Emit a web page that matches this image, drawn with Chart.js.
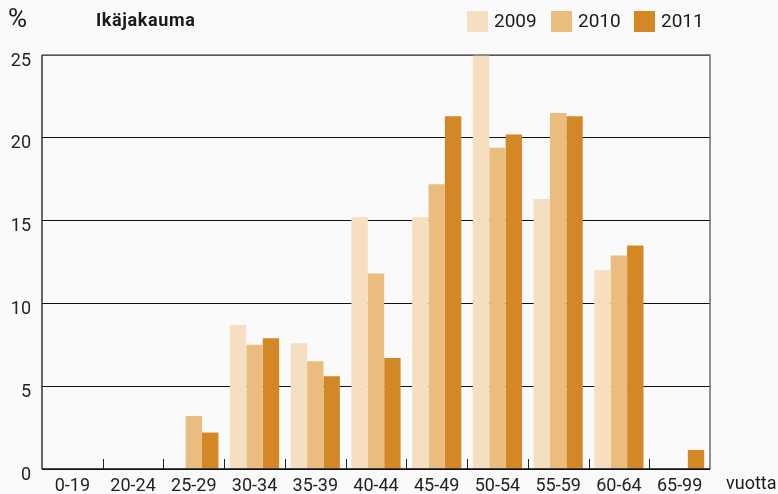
<!DOCTYPE html>
<html>
<head>
<meta charset="utf-8">
<script src="https://cdn.jsdelivr.net/npm/chart.js@4"></script>
<style>
  html, body { margin: 0; padding: 0; background: #fafafa; }
  #wrap { width: 778px; height: 494px; }
</style>
</head>
<body>
<div id="wrap"><canvas id="ikajakauma" width="778" height="494"></canvas></div>
<script>
// Ikäjakauma, % per ikäryhmä
const ikaryhmat = ['0-19', '20-24', '25-29', '30-34', '35-39', '40-44', '45-49', '50-54', '55-59', '60-64', '65-99'];
const v2009 = [0, 0, 0, 8.7, 7.6, 15.2, 15.2, 25.0, 16.3, 12.0, 0];
const v2010 = [0, 0, 3.2, 7.5, 6.5, 11.8, 17.2, 19.4, 21.5, 12.9, 0];
const v2011 = [0, 0, 2.2, 7.9, 5.6, 6.7, 21.3, 20.2, 21.3, 13.5, 1.15];
const vuodet = ['2009', '2010', '2011'];
const varit = ['#f6dfc1', '#eabd7e', '#d38825'];
const yTicks = [0, 5, 10, 15, 20, 25];

const fontti = 'Roboto, "Liberation Sans", sans-serif';

const kehys = {
  id: 'kehys',
  afterDatasetsDraw(chart) {
    const { ctx, chartArea: a, scales } = chart;
    ctx.save();
    // reunat
    ctx.strokeStyle = '#6e6e6e';
    ctx.lineWidth = 1.5;
    ctx.beginPath();
    ctx.moveTo(a.left, a.top);
    ctx.lineTo(a.right, a.top);
    ctx.lineTo(a.right, a.bottom);
    ctx.stroke();
    ctx.strokeStyle = '#333';
    ctx.beginPath();
    ctx.moveTo(a.left, a.top);
    ctx.lineTo(a.left, a.bottom);
    ctx.stroke();
    ctx.strokeStyle = '#111';
    ctx.beginPath();
    ctx.moveTo(a.left, a.bottom);
    ctx.lineTo(a.right, a.bottom);
    ctx.stroke();
    // väliviivat ryhmien välissä
    const x = scales.x;
    ctx.lineWidth = 1;
    ctx.strokeStyle = '#222';
    for (let i = 1; i < ikaryhmat.length; i++) {
      const px = Math.round((x.getPixelForValue(i - 1) + x.getPixelForValue(i)) / 2) + 0.5;
      ctx.beginPath();
      ctx.moveTo(px, a.bottom);
      ctx.lineTo(px, a.bottom - 10);
      ctx.stroke();
    }
    ctx.restore();
  },
  afterDraw(chart) {
    const { ctx } = chart;
    ctx.save();
    ctx.fillStyle = '#1a1a1a';
    ctx.textBaseline = 'middle';
    ctx.textAlign = 'left';
    ctx.font = '26px ' + fontti;
    ctx.fillText('%', 8, 20);
    ctx.font = 'bold 18px ' + fontti;
    ctx.letterSpacing = '0.6px';
    ctx.fillText('Ikäjakauma', 96, 21);
    ctx.letterSpacing = '0px';
    ctx.font = '18px ' + fontti;
    ctx.fillText('vuotta', 726, 484);
    // selite
    const boxX = [467, 551, 634];
    ctx.font = '19px ' + fontti;
    chart.data.datasets.forEach((ds, i) => {
      ctx.fillStyle = ds.backgroundColor;
      ctx.fillRect(boxX[i], 11, 21, 21);
      ctx.fillStyle = '#1a1a1a';
      ctx.fillText(ds.label, boxX[i] + 27, 22);
    });
    ctx.restore();
  }
};

new Chart(document.getElementById('ikajakauma'), {
  type: 'bar',
  data: {
    labels: ikaryhmat,
    datasets: [
      { label: vuodet[0], data: v2009, backgroundColor: varit[0] },
      { label: vuodet[1], data: v2010, backgroundColor: varit[1] },
      { label: vuodet[2], data: v2011, backgroundColor: varit[2] }
    ]
  },
  options: {
    responsive: false,
    animation: false,
    layout: { padding: { top: 55, right: 68, left: 0, bottom: 0 } },
    datasets: { bar: { categoryPercentage: 0.81, barPercentage: 1.0, borderWidth: 0 } },
    plugins: { legend: { display: false }, tooltip: { enabled: false } },
    scales: {
      x: {
        grid: { display: false },
        border: { display: false },
        ticks: { color: '#222', font: { family: fontti, size: 18 }, padding: -1, maxRotation: 0, autoSkip: false },
        afterFit: s => { s.height = 25; }
      },
      y: {
        min: 0,
        max: 25,
        afterBuildTicks: s => { s.ticks = yTicks.map(v => ({ value: v })); },
        grid: { color: '#111', lineWidth: 1, drawTicks: false },
        border: { display: false },
        ticks: { color: '#222', font: { family: fontti, size: 18 }, padding: 11, labelOffset: 6 },
        afterFit: s => { s.width = 42; }
      }
    }
  },
  plugins: [kehys]
});
</script>
</body>
</html>
